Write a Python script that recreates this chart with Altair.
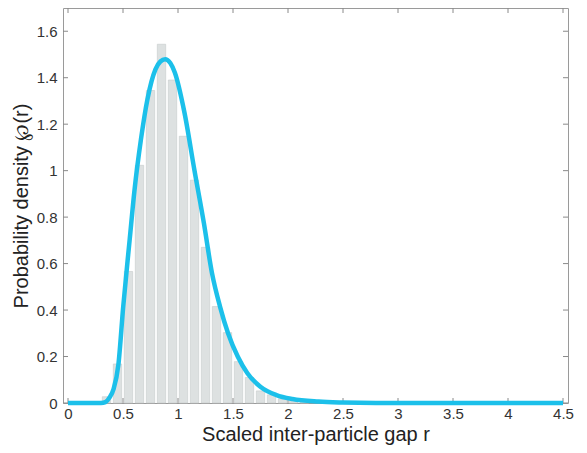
import altair as alt
import pandas as pd

# Histogram bins (centres) and heights
bin_centers = [0.35, 0.45, 0.55, 0.65, 0.75, 0.85, 0.95, 1.05, 1.15, 1.25,
               1.35, 1.45, 1.55, 1.65, 1.75, 1.85, 1.95, 2.05, 2.15]
bin_heights = [0.027, 0.168, 0.566, 1.023, 1.345, 1.544, 1.39, 1.148, 0.959, 0.67,
               0.415, 0.303, 0.178, 0.11, 0.052, 0.035, 0.018, 0.01, 0.005]

# Fitted density curve
curve_r = [0.0, 0.30, 0.34, 0.38, 0.414, 0.458, 0.502, 0.56, 0.605, 0.663,
           0.722, 0.795, 0.84, 0.883, 0.93, 0.971, 1.059, 1.15, 1.235, 1.309,
           1.382, 1.455, 1.543, 1.631, 1.749, 1.895, 2.04, 2.277, 2.5, 2.8, 4.5]
curve_p = [0.0, 0.0, 0.004, 0.025, 0.06, 0.165, 0.415, 0.70, 0.918, 1.134,
           1.307, 1.436, 1.47, 1.479, 1.463, 1.422, 1.249, 1.0, 0.775, 0.559,
           0.415, 0.30, 0.20, 0.128, 0.07, 0.034, 0.017, 0.006, 0.002, 0.0, 0.0]

x_ticks = [0, 0.5, 1, 1.5, 2, 2.5, 3, 3.5, 4, 4.5]
y_ticks = [0, 0.2, 0.4, 0.6, 0.8, 1, 1.2, 1.4, 1.6]

bars_df = pd.DataFrame({"r": bin_centers, "p": bin_heights})
curve_df = pd.DataFrame({"r": curve_r, "p": curve_p})
xt_df = pd.DataFrame({"v": x_ticks})
yt_df = pd.DataFrame({"v": y_ticks})

W, H = 505, 395
TL = 5
TICK = "#8a8a8a"
FONT = "Liberation Sans"
x_scale = alt.Scale(domain=[0, 4.5], nice=False, zero=False)
y_scale = alt.Scale(domain=[0, 1.7], nice=False)

common = dict(domain=False, ticks=False, tickSize=0, grid=False,
              labelFont=FONT, labelFontSize=15, labelColor="#333333",
              titleFont=FONT, titleColor="#222222", titleFontWeight="normal",
              labelOverlap=False, titleFontSize=20)

x_bottom = alt.Axis(orient="bottom", values=x_ticks, format="~g",
                    title="Scaled inter-particle gap r",
                    labelPadding=3, titlePadding=3, labelFlush=False, **common)
y_left = alt.Axis(orient="left", values=y_ticks, format="~g",
                  title="Probability density \u2118(r)",
                  labelPadding=6, titlePadding=5, **common)

bars = alt.Chart(bars_df).mark_bar(
    size=8.4, fill="#dde1e1", stroke="#c6cbcb", strokeWidth=0.6
).encode(
    x=alt.X("r:Q", scale=x_scale, axis=x_bottom),
    y=alt.Y("p:Q", scale=y_scale, axis=y_left),
)

line = alt.Chart(curve_df).mark_line(
    color="#1cc0ea", strokeWidth=4.5, interpolate="monotone"
).encode(
    x=alt.X("r:Q", scale=x_scale, axis=None),
    y=alt.Y("p:Q", scale=y_scale, axis=None),
)

# inward tick marks on all four sides (MATLAB box style)
yt_left = alt.Chart(yt_df).mark_rule(color=TICK, strokeWidth=1).encode(
    y=alt.Y("v:Q", scale=y_scale, axis=None), x=alt.value(0), x2=alt.value(TL))
yt_right = alt.Chart(yt_df).mark_rule(color=TICK, strokeWidth=1).encode(
    y=alt.Y("v:Q", scale=y_scale, axis=None), x=alt.value(W - TL), x2=alt.value(W))
xt_bottom = alt.Chart(xt_df).mark_rule(color=TICK, strokeWidth=1).encode(
    x=alt.X("v:Q", scale=x_scale, axis=None), y=alt.value(H), y2=alt.value(H - TL))
xt_top = alt.Chart(xt_df).mark_rule(color=TICK, strokeWidth=1).encode(
    x=alt.X("v:Q", scale=x_scale, axis=None), y=alt.value(0), y2=alt.value(TL))

chart = alt.layer(bars, yt_left, yt_right, xt_bottom, xt_top, line).resolve_axis(
    x="independent", y="independent"
).properties(
    width=W, height=H,
    autosize=alt.AutoSizeParams(type="none"),
    padding={"left": 55, "top": 0, "right": 11, "bottom": 42},
).configure_view(stroke="#9a9a9a", strokeWidth=1)

chart.save("out.html", embed_options={"renderer": "svg", "actions": False})
